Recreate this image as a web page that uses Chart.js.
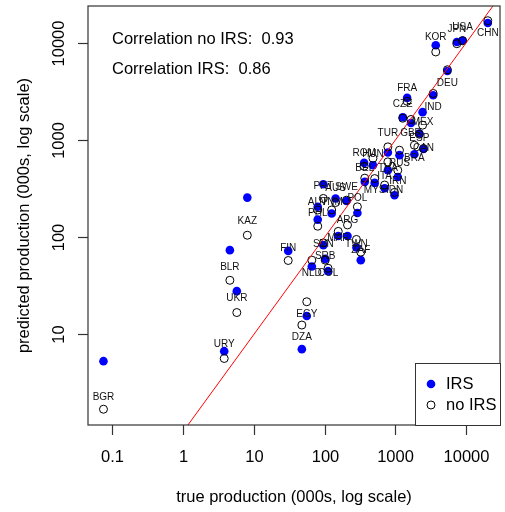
<!DOCTYPE html>
<html>
<head>
<meta charset="utf-8">
<script src="https://cdn.jsdelivr.net/npm/chart.js@4.4.1/dist/chart.umd.min.js"></script>
<style>
  body { margin: 0; background: #fff; }
  canvas { display: block; }
</style>
</head>
<body>
<canvas id="irsChart" width="505" height="512"></canvas>
<script>
// country codes and values (000s)
const countries = ['CHN','USA','JPN','KOR','DEU','IND','FRA','CZE','MEX','GBR','ESP','CAN','BRA','TUR','RUS',
  'ROM','HUN','THA','BEL','ITA','IRN','MYS','IDN','POL','PRT','AUS','SWE','AUT','VNM','PHL','ARG','MAR',
  'SVN','TWN','ZAF','FIN','SRB','NLD','COL','EGY','DZA','BGR','URY','UKR','BLR','KAZ'];
const trueProd = [20300, 8930, 7410, 3730, 5450, 3430, 1470, 1275, 2430, 1665, 2185, 2500, 1860, 785, 1145,
  362, 483, 785, 370, 706, 1084, 511, 975, 291, 96, 143, 204, 80, 126, 80, 211, 156,
  96, 282, 325, 30.6, 102, 66, 112, 56, 47.7, 0.0748, 3.81, 5.74, 4.58, 8.08];
const predIRS = [16070, 10590, 10240, 9470, 5150, 2900, 2720, 1720, 1940, 1500, 1170, 810, 716, 745, 700,
  583, 551, 490, 372, 320, 418, 363, 271, 178, 352, 251, 236, 206, 176, 152, 103, 103,
  83, 78.5, 58.2, 72.4, 60, 50.1, 44.8, 15.5, 7.06, 5.31, 6.73, 27.9, 73.7, 256];
const predNoIRS = [16940, 10540, 9820, 8080, 5300, 3020, 2510, 1680, 1425, 1630, 1150, 820, 886, 852, 787,
  539, 650, 597, 406, 345, 490, 402, 290, 206, 251, 228, 241, 191, 191, 130, 134, 115,
  87.6, 95, 70.3, 57.7, 58.2, 58.2, 48, 21.7, 12.5, 1.70, 5.66, 16.8, 36.1, 105];
// where each country code sits on the predicted axis
const labelAt = [12590, 14610, 13740, 11360, 3830, 2200, 3440, 2325, 1540, 1170, 1040, 820, 647, 1170, 574,
  739, 716, 510, 510, 426, 378, 306, 306, 254, 335, 318, 326, 232, 232, 178, 150, 97,
  84.9, 84.9, 73.7, 77.3, 63.9, 43.1, 43.1, 16.1, 9.45, 2.28, 7.86, 23.5, 49.6, 145];

const xTicks = [0.1, 1, 10, 100, 1000, 10000];
const yTicks = [10, 100, 1000, 10000];
const xRange = [0.0452, 30200];
const yRange = [1.17, 24000];
const refLine = [0.01, 100000];   // y = x
const corrNoIRS = 0.93;
const corrIRS = 0.86;

const FONT = '"Liberation Sans", Arial, Helvetica, sans-serif';

const rPlot = {
  id: 'rPlot',
  afterDatasetsDraw(chart) {
    const { ctx, chartArea: a, scales: { x, y } } = chart;
    ctx.save();

    // country codes
    ctx.font = '10px ' + FONT;
    ctx.fillStyle = '#111';
    ctx.textAlign = 'center';
    ctx.textBaseline = 'middle';
    countries.forEach((c, i) => {
      ctx.fillText(c, x.getPixelForValue(trueProd[i]), y.getPixelForValue(labelAt[i]));
    });

    // box
    ctx.strokeStyle = '#333';
    ctx.lineWidth = 1.2;
    ctx.strokeRect(a.left, a.top, a.right - a.left, a.bottom - a.top);

    // x axis
    ctx.font = '16.5px ' + FONT;
    ctx.fillStyle = '#000';
    xTicks.forEach(v => {
      const px = Math.round(x.getPixelForValue(v)) + 0.5;
      ctx.beginPath(); ctx.moveTo(px, a.bottom); ctx.lineTo(px, a.bottom + 10); ctx.stroke();
      ctx.fillText(String(v), px, a.bottom + 32);
    });
    ctx.fillText('true production (000s, log scale)', (a.left + a.right) / 2, a.bottom + 72);

    // y axis
    yTicks.forEach(v => {
      const py = Math.round(y.getPixelForValue(v)) + 0.5;
      ctx.beginPath(); ctx.moveTo(a.left, py); ctx.lineTo(a.left - 10, py); ctx.stroke();
      ctx.save();
      ctx.translate(a.left - 29, py);
      ctx.rotate(-Math.PI / 2);
      ctx.fillText(String(v), 0, 0);
      ctx.restore();
    });
    ctx.save();
    ctx.translate(24, (a.top + a.bottom) / 2);
    ctx.rotate(-Math.PI / 2);
    ctx.fillText('predicted production (000s, log scale)', 0, 0);
    ctx.restore();

    // correlations
    ctx.textAlign = 'left';
    ctx.fillText('Correlation no IRS:  ' + corrNoIRS.toFixed(2), a.left + 24, a.top + 33);
    ctx.fillText('Correlation IRS:  ' + corrIRS.toFixed(2), a.left + 24, a.top + 63);

    // legend, bottom right
    const lw = 85, lh = 62;
    const lx = a.right - lw, ly = a.bottom - lh;
    ctx.fillStyle = '#fff';
    ctx.fillRect(lx, ly, lw, lh);
    ctx.strokeStyle = '#333';
    ctx.lineWidth = 1;
    ctx.strokeRect(lx + 0.5, ly + 0.5, lw, lh);
    ctx.fillStyle = '#0000ff';
    ctx.beginPath(); ctx.arc(lx + 16, ly + 21, 4.3, 0, Math.PI * 2); ctx.fill();
    ctx.strokeStyle = '#000';
    ctx.beginPath(); ctx.arc(lx + 16, ly + 42, 4, 0, Math.PI * 2); ctx.stroke();
    ctx.fillStyle = '#000';
    ctx.fillText('IRS', lx + 31, ly + 21);
    ctx.fillText('no IRS', lx + 31, ly + 42);

    ctx.restore();
  }
};

const ctx = document.getElementById('irsChart');
new Chart(ctx, {
  type: 'scatter',
  data: {
    datasets: [
      {
        label: 'y = x',
        type: 'line',
        data: refLine.map(v => ({ x: v, y: v })),
        borderColor: '#ff0000',
        borderWidth: 1,
        pointRadius: 0,
        order: 0
      },
      {
        label: 'no IRS',
        data: trueProd.map((v, i) => ({ x: v, y: predNoIRS[i] })),
        backgroundColor: 'rgba(0,0,0,0)',
        borderColor: '#000',
        borderWidth: 1,
        pointRadius: 4,
        order: 1
      },
      {
        label: 'IRS',
        data: trueProd.map((v, i) => ({ x: v, y: predIRS[i] })),
        backgroundColor: '#0000ff',
        borderWidth: 0,
        pointRadius: 4.3,
        order: 2
      }
    ]
  },
  options: {
    responsive: false,
    animation: false,
    devicePixelRatio: 1,
    layout: { padding: { left: 88, top: 6, right: 2, bottom: 87 } },
    scales: {
      x: { type: 'logarithmic', min: xRange[0], max: xRange[1], display: false },
      y: { type: 'logarithmic', min: yRange[0], max: yRange[1], display: false }
    },
    plugins: {
      legend: { display: false },
      tooltip: { enabled: false }
    }
  },
  plugins: [rPlot]
});
</script>
</body>
</html>
